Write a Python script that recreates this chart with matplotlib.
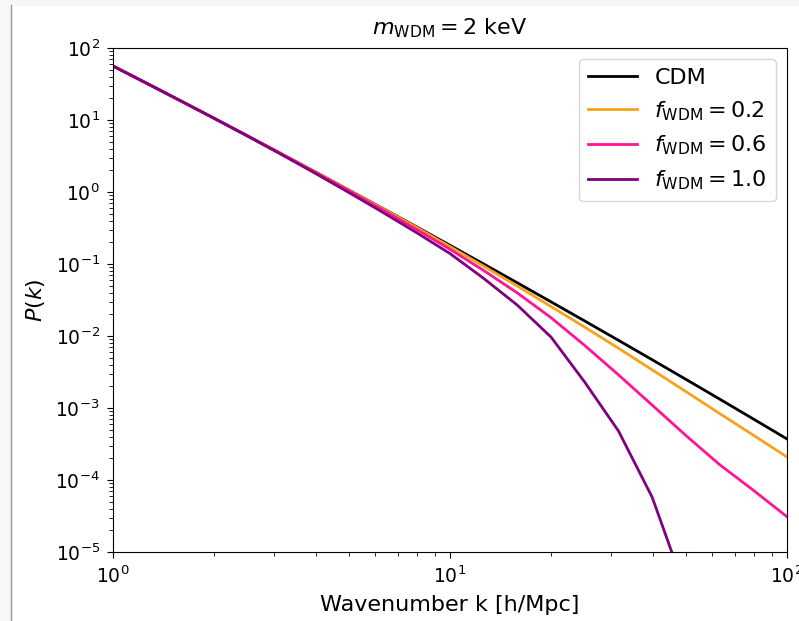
import numpy as np
import matplotlib
matplotlib.use("Agg")
import matplotlib.pyplot as plt
from matplotlib.lines import Line2D
from matplotlib.patches import Rectangle

# k sampled every 0.1 dex from 1 to 100 h/Mpc
log_k = [0.0, 0.1, 0.2, 0.3, 0.4, 0.5, 0.6, 0.7, 0.8, 0.9, 1.0,
         1.1, 1.2, 1.3, 1.4, 1.5, 1.6, 1.7, 1.8, 1.9, 2.0]

# log10 P(k)
log_p_cdm = [1.750, 1.510, 1.268, 1.024, 0.778, 0.530, 0.280, 0.028, -0.226, -0.482, -0.740,
             -1.000, -1.262, -1.526, -1.792, -2.060, -2.330, -2.602, -2.876, -3.152, -3.430]
log_p_f02 = [1.750, 1.510, 1.268, 1.024, 0.778, 0.530, 0.280, 0.028, -0.229, -0.490, -0.758,
             -1.030, -1.307, -1.591, -1.877, -2.170, -2.470, -2.772, -3.076, -3.377, -3.680]
log_p_f06 = [1.750, 1.510, 1.268, 1.024, 0.778, 0.528, 0.275, 0.018, -0.246, -0.517, -0.795,
             -1.090, -1.402, -1.746, -2.132, -2.540, -2.960, -3.382, -3.786, -4.142, -4.510]
log_p_f10 = [1.750, 1.510, 1.268, 1.024, 0.775, 0.520, 0.260, -0.007, -0.281, -0.562, -0.855,
             -1.200, -1.572, -2.016, -2.642, -3.320, -4.240, -5.550, -7.000, -8.600, -10.300]

labels = ["CDM", r"$f_{\rm WDM} = 0.2$", r"$f_{\rm WDM} = 0.6$", r"$f_{\rm WDM} = 1.0$"]
colors = ["black", "#f7a21b", "#ff1493", "purple"]

k = np.power(10.0, log_k)

fig = plt.figure(figsize=(7.99, 6.21), dpi=100)
ax = fig.add_axes([0.1414, 0.1111, 0.8436, 0.8116])

for lp, lab, col in zip([log_p_cdm, log_p_f02, log_p_f06, log_p_f10], labels, colors):
    ax.plot(k, np.power(10.0, lp), color=col, lw=2, label=lab)

ax.set_xscale("log")
ax.set_yscale("log")
ax.set_xlim(1, 100)
ax.set_ylim(1e-5, 1e2)
ax.tick_params(which="major", labelsize=13.5, length=4.5, pad=5)
ax.tick_params(which="minor", length=2.8)
ax.set_xlabel("Wavenumber k [h/Mpc]", fontsize=16, labelpad=6)
ax.set_ylabel(r"$P(k)$", fontsize=16, labelpad=6)
ax.set_title(r"$m_{\rm WDM} = 2$ keV", fontsize=16, pad=10)
ax.legend(loc="upper right", fontsize=16, handlelength=2.2, borderaxespad=0.5)

# screenshot border bits
fig.add_artist(Rectangle((0, 0), 10.5 / 799, 1, transform=fig.transFigure,
                         color="#f7f7f7", zorder=-1))
fig.add_artist(Rectangle((0, 1 - 4.5 / 621), 1, 4.5 / 621, transform=fig.transFigure,
                         color="#f7f7f7", zorder=-1))
fig.add_artist(Line2D([10.5 / 799, 10.5 / 799], [0, 1 - 4.5 / 621],
                      transform=fig.transFigure, color="#999999", lw=1))

fig.savefig("out.png", dpi=100)
